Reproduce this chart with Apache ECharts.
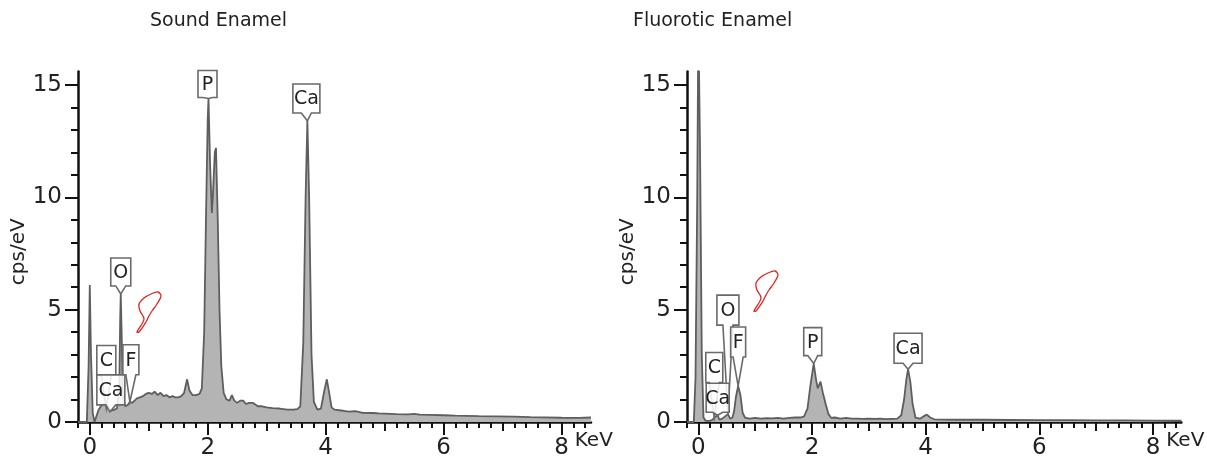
<!DOCTYPE html>
<html>
<head>
<meta charset="utf-8">
<script src="https://cdn.jsdelivr.net/npm/echarts@6/dist/echarts.min.js"></script>
<style>
  html, body { margin: 0; padding: 0; background: #fff; }
  #main { width: 1207px; height: 462px; }
</style>
</head>
<body>
<div id="main"></div>
<script>
// spectra (keV, cps/eV)
var soundKeV = [-0.2, -0.05, -0.02, 0, 0.02, 0.05, 0.08, 0.11, 0.15, 0.2, 0.25, 0.28, 0.31, 0.35, 0.38, 0.42, 0.46,
  0.5, 0.515, 0.525, 0.54, 0.56, 0.6, 0.64, 0.68, 0.72, 0.76, 0.8, 0.85, 0.9, 0.95, 1.0, 1.05, 1.1, 1.15, 1.2,
  1.25, 1.3, 1.35, 1.4, 1.45, 1.5, 1.55, 1.6, 1.65, 1.69, 1.74, 1.8, 1.86, 1.9, 1.94, 1.97, 2.0, 2.013, 2.04,
  2.07, 2.09, 2.12, 2.14, 2.17, 2.2, 2.23, 2.27, 2.32, 2.37, 2.41, 2.45, 2.5, 2.55, 2.6, 2.65, 2.7, 2.77, 2.85,
  2.92, 3.0, 3.1, 3.22, 3.35, 3.45, 3.52, 3.57, 3.62, 3.66, 3.69, 3.72, 3.76, 3.8, 3.86, 3.92, 3.97, 4.02, 4.06,
  4.1, 4.15, 4.3, 4.4, 4.5, 4.63, 4.8, 4.9, 5.0, 5.2, 5.4, 5.5, 5.6, 5.77, 6.0, 6.2, 6.4, 6.6, 6.9, 7.2, 7.47,
  7.7, 8.0, 8.3, 8.5];
var soundCps = [0, 0, 2.5, 6.1, 3.0, 0.4, 0, 0.05, 0.55, 0.75, 0.8, 0.85, 0.7, 0.5, 0.45, 0.55, 0.6,
  1.5, 4.5, 5.7, 4.0, 1.2, 0.7, 0.75, 0.9, 0.85, 0.95, 1.05, 1.1, 1.15, 1.25, 1.3, 1.25, 1.35, 1.2, 1.3,
  1.15, 1.2, 1.1, 1.15, 1.1, 1.1, 1.15, 1.3, 1.9, 1.4, 1.2, 1.2, 1.25, 1.5, 4.0, 9.0, 13.5, 14.4, 11.5,
  9.3, 10.2, 12.0, 12.2, 9.0, 5.0, 2.5, 1.3, 1.0, 0.95, 1.2, 0.95, 0.85, 0.95, 0.95, 0.8, 0.85, 0.85, 0.7,
  0.7, 0.65, 0.62, 0.6, 0.55, 0.55, 0.57, 0.7, 3.5, 10.0, 13.4, 10.0, 3.0, 0.9, 0.55, 0.6, 1.3, 1.9, 1.3,
  0.65, 0.55, 0.5, 0.46, 0.48, 0.41, 0.4, 0.38, 0.37, 0.35, 0.34, 0.36, 0.33, 0.32, 0.3, 0.28, 0.27, 0.26, 0.25, 0.24, 0.22,
  0.21, 0.19, 0.18, 0.2];

var fluoKeV = [-0.2, -0.08, -0.05, -0.02, 0, 0.03, 0.06, 0.09, 0.13, 0.2, 0.25, 0.28, 0.31, 0.34, 0.37, 0.42,
  0.47, 0.52, 0.56, 0.6, 0.63, 0.66, 0.7, 0.74, 0.78, 0.82, 0.9, 1.0, 1.1, 1.2, 1.3, 1.4, 1.5, 1.6, 1.7, 1.8,
  1.86, 1.92, 1.97, 2.03, 2.07, 2.1, 2.15, 2.19, 2.24, 2.29, 2.34, 2.4, 2.5, 2.6, 2.7, 2.8, 2.9, 3.0, 3.1, 3.2,
  3.3, 3.4, 3.5, 3.57, 3.62, 3.66, 3.69, 3.73, 3.77, 3.82, 3.9, 3.96, 4.02, 4.08, 4.15, 4.5, 5.0, 5.5, 6.0, 6.5,
  7.0, 7.5, 8.0, 8.5];
var fluoCps = [0, 0, 2.0, 10, 18, 12, 3, 0.2, 0.05, 0.05, 0.1, 0.2, 0.15, 0.3, 0.1, 0.15,
  0.25, 0.35, 0.15, 0.2, 0.5, 1.1, 1.6, 1.2, 0.4, 0.2, 0.15, 0.18, 0.15, 0.17, 0.16, 0.18, 0.15, 0.18, 0.2, 0.2,
  0.25, 0.6, 1.6, 2.6, 1.9, 1.5, 1.8, 1.3, 0.8, 0.35, 0.18, 0.2, 0.15, 0.18, 0.15, 0.15, 0.14, 0.15, 0.14, 0.15,
  0.13, 0.14, 0.15, 0.3, 1.0, 1.9, 2.35, 1.8, 0.8, 0.2, 0.15, 0.25, 0.33, 0.2, 0.12, 0.1, 0.1, 0.09, 0.08, 0.08,
  0.07, 0.07, 0.06, 0.06];

// peak labels: element, energy (keV), tip height (cps/eV)
var soundPeakNames = ['P', 'Ca', 'O', 'C', 'F', 'Ca'];
var soundPeakKeV = [2.013, 3.69, 0.525, 0.28, 0.68, 0.34];
var soundPeakCps = [14.4, 13.4, 5.7, 0.6, 0.9, 0.45];

var fluoPeakNames = ['O', 'F', 'C', 'Ca', 'P', 'Ca'];
var fluoPeakKeV = [0.52, 0.7, 0.28, 0.34, 2.03, 3.69];
var fluoPeakCps = [0.35, 1.6, 0.2, 0.3, 2.6, 2.35];

// tick positions
var xMajorTicks = [0, 2, 4, 6, 8];
var xMidTicks = [1, 3, 5, 7];
var xMinorTicks = [-0.2, 0.2, 0.4, 0.6, 0.8, 1.2, 1.4, 1.6, 1.8, 2.2, 2.4, 2.6, 2.8, 3.2, 3.4, 3.6, 3.8,
  4.2, 4.4, 4.6, 4.8, 5.2, 5.4, 5.6, 5.8, 6.2, 6.4, 6.6, 6.8, 7.2, 7.4, 7.6, 7.8, 8.2, 8.4];
var yMajorTicks = [0, 5, 10, 15];
var yMinorTicks = [1, 2, 3, 4, 6, 7, 8, 9, 11, 12, 13, 14];

// callout box layout in px: [dx, lift, width, height]
var soundBoxes = [[-1, 1, 19, 27], [-1, 8, 27, 29], [0, 8, 20, 28], [0, 33, 19, 30], [1, 27, 16, 30], [1, 7, 28, 30]];
var fluoBoxes = [[0, 89, 22, 30], [0, 29, 15, 30], [0, 35, 17, 30], [0, 3, 23, 29], [-1, 8, 18, 28], [0, 6, 28, 30]];

var FONT = 'DejaVu Sans';
var INK = '#222';

function pairs(a, b) {
  return a.map(function (v, i) { return [v, b[i]]; });
}

function xAxes(g, kevGap) {
  var base = {
    gridIndex: g, type: 'value', min: -0.2, max: 8.5, position: 'bottom', offset: 0,
    splitLine: { show: false }
  };
  return [
    Object.assign({}, base, {
      axisLine: { show: true, onZero: false, lineStyle: { color: '#111', width: 2.5 } },
      axisTick: { show: true, length: 13, customValues: xMajorTicks, lineStyle: { color: '#111', width: 2 } },
      axisLabel: { customValues: xMajorTicks, margin: 15, fontSize: 23, color: INK, fontFamily: FONT },
      name: 'KeV', nameLocation: 'end', nameGap: kevGap,
      nameTextStyle: { fontSize: 20, color: INK, fontFamily: FONT, align: 'center', verticalAlign: 'top', padding: [9, 0, 0, 0] }
    }),
    Object.assign({}, base, {
      axisLine: { show: false, onZero: false },
      axisTick: { show: true, length: 9, customValues: xMidTicks, lineStyle: { color: '#111', width: 2 } },
      axisLabel: { show: false }
    }),
    Object.assign({}, base, {
      axisLine: { show: false, onZero: false },
      axisTick: { show: true, length: 6, customValues: xMinorTicks, lineStyle: { color: '#111', width: 2 } },
      axisLabel: { show: false }
    })
  ];
}

function yAxes(g, nameGap) {
  var base = { gridIndex: g, type: 'value', min: 0, max: 15.6, position: 'left', offset: 0, splitLine: { show: false } };
  return [
    Object.assign({}, base, {
      axisLine: { show: true, onZero: false, lineStyle: { color: '#111', width: 2.5 } },
      axisTick: { show: true, length: 13, customValues: yMajorTicks, lineStyle: { color: '#111', width: 2 } },
      axisLabel: { customValues: yMajorTicks, margin: 16, fontSize: 23, color: INK, fontFamily: FONT },
      name: 'cps/eV', nameLocation: 'middle', nameGap: nameGap,
      nameTextStyle: { fontSize: 20, color: INK, fontFamily: FONT, padding: [0, 10, 0, 0] }
    }),
    Object.assign({}, base, {
      axisLine: { show: false, onZero: false },
      axisTick: { show: true, length: 7, customValues: yMinorTicks, lineStyle: { color: '#111', width: 2 } },
      axisLabel: { show: false }
    })
  ];
}

function calloutRender(boxes, names) {
  return function (params, api) {
    var i = params.dataIndex;
    var tip = api.coord([api.value(0), api.value(1)]);
    var b = boxes[i];
    var cx = tip[0] + b[0];
    var bottom = tip[1] - b[1];
    var top = bottom - b[3];
    var l = cx - b[2] / 2, r = cx + b[2] / 2;
    var hw = Math.min(5, b[2] / 2 - 2);
    var pts = [[l, top], [r, top], [r, bottom], [cx + hw, bottom], [tip[0], tip[1]], [cx - hw, bottom], [l, bottom]];
    return {
      type: 'group',
      children: [
        { type: 'polygon', shape: { points: pts }, style: { fill: 'rgba(255,255,255,0.85)', stroke: '#6a6a6a', lineWidth: 1.6 } },
        { type: 'text', style: { text: names[i], x: cx, y: (top + bottom) / 2 + 1, align: 'center', verticalAlign: 'middle', fontSize: 19, fill: INK, fontFamily: FONT } }
      ]
    };
  };
}

function spectrum(xi, yi, data) {
  return {
    type: 'line', xAxisIndex: xi, yAxisIndex: yi, data: data,
    symbol: 'none', smooth: false, clip: true,
    lineStyle: { color: '#5e5e5e', width: 1.8 },
    areaStyle: { color: '#b4b4b4', opacity: 1 },
    z: 2
  };
}

// hand-drawn red marks
var handShape = [[1, 40], [8, 27], [4, 19], [3, 12], [8, 6], [15, 2], [22, 0], [25, 4], [21, 12], [16, 19], [13, 24], [10, 30], [3, 40]];
function hand(ox, oy) {
  return {
    type: 'polygon', z: 10,
    shape: { points: handShape.map(function (p) { return [ox + p[0], oy + p[1]]; }), smooth: 0.35 },
    style: { fill: 'none', stroke: '#e8231f', lineWidth: 1.3 }
  };
}

var myChart = echarts.init(document.getElementById('main'), null, { renderer: 'canvas' });

var option = {
  animation: false,
  backgroundColor: '#fff',
  title: [
    { text: 'Sound Enamel', left: 145, top: 7, textStyle: { fontSize: 19, fontWeight: 'normal', color: INK, fontFamily: FONT } },
    { text: 'Fluorotic Enamel', left: 628, top: 7, textStyle: { fontSize: 19, fontWeight: 'normal', color: INK, fontFamily: FONT } }
  ],
  grid: [
    { left: 78, top: 71.5, width: 513, height: 350.5, containLabel: false },
    { left: 687, top: 71.5, width: 500, height: 350.5, containLabel: false }
  ],
  xAxis: xAxes(0, -5).concat(xAxes(1, 0)),
  yAxis: yAxes(0, 48).concat(yAxes(1, 43)),
  series: [
    spectrum(0, 0, pairs(soundKeV, soundCps)),
    spectrum(3, 2, pairs(fluoKeV, fluoCps)),
    {
      type: 'custom', xAxisIndex: 0, yAxisIndex: 0, z: 5, clip: false,
      data: pairs(soundPeakKeV, soundPeakCps),
      renderItem: calloutRender(soundBoxes, soundPeakNames)
    },
    {
      type: 'custom', xAxisIndex: 3, yAxisIndex: 2, z: 5, clip: false,
      data: pairs(fluoPeakKeV, fluoPeakCps),
      renderItem: calloutRender(fluoBoxes, fluoPeakNames)
    }
  ],
  graphic: [hand(136, 292), hand(753, 271)]
};

myChart.setOption(option);
</script>
</body>
</html>
